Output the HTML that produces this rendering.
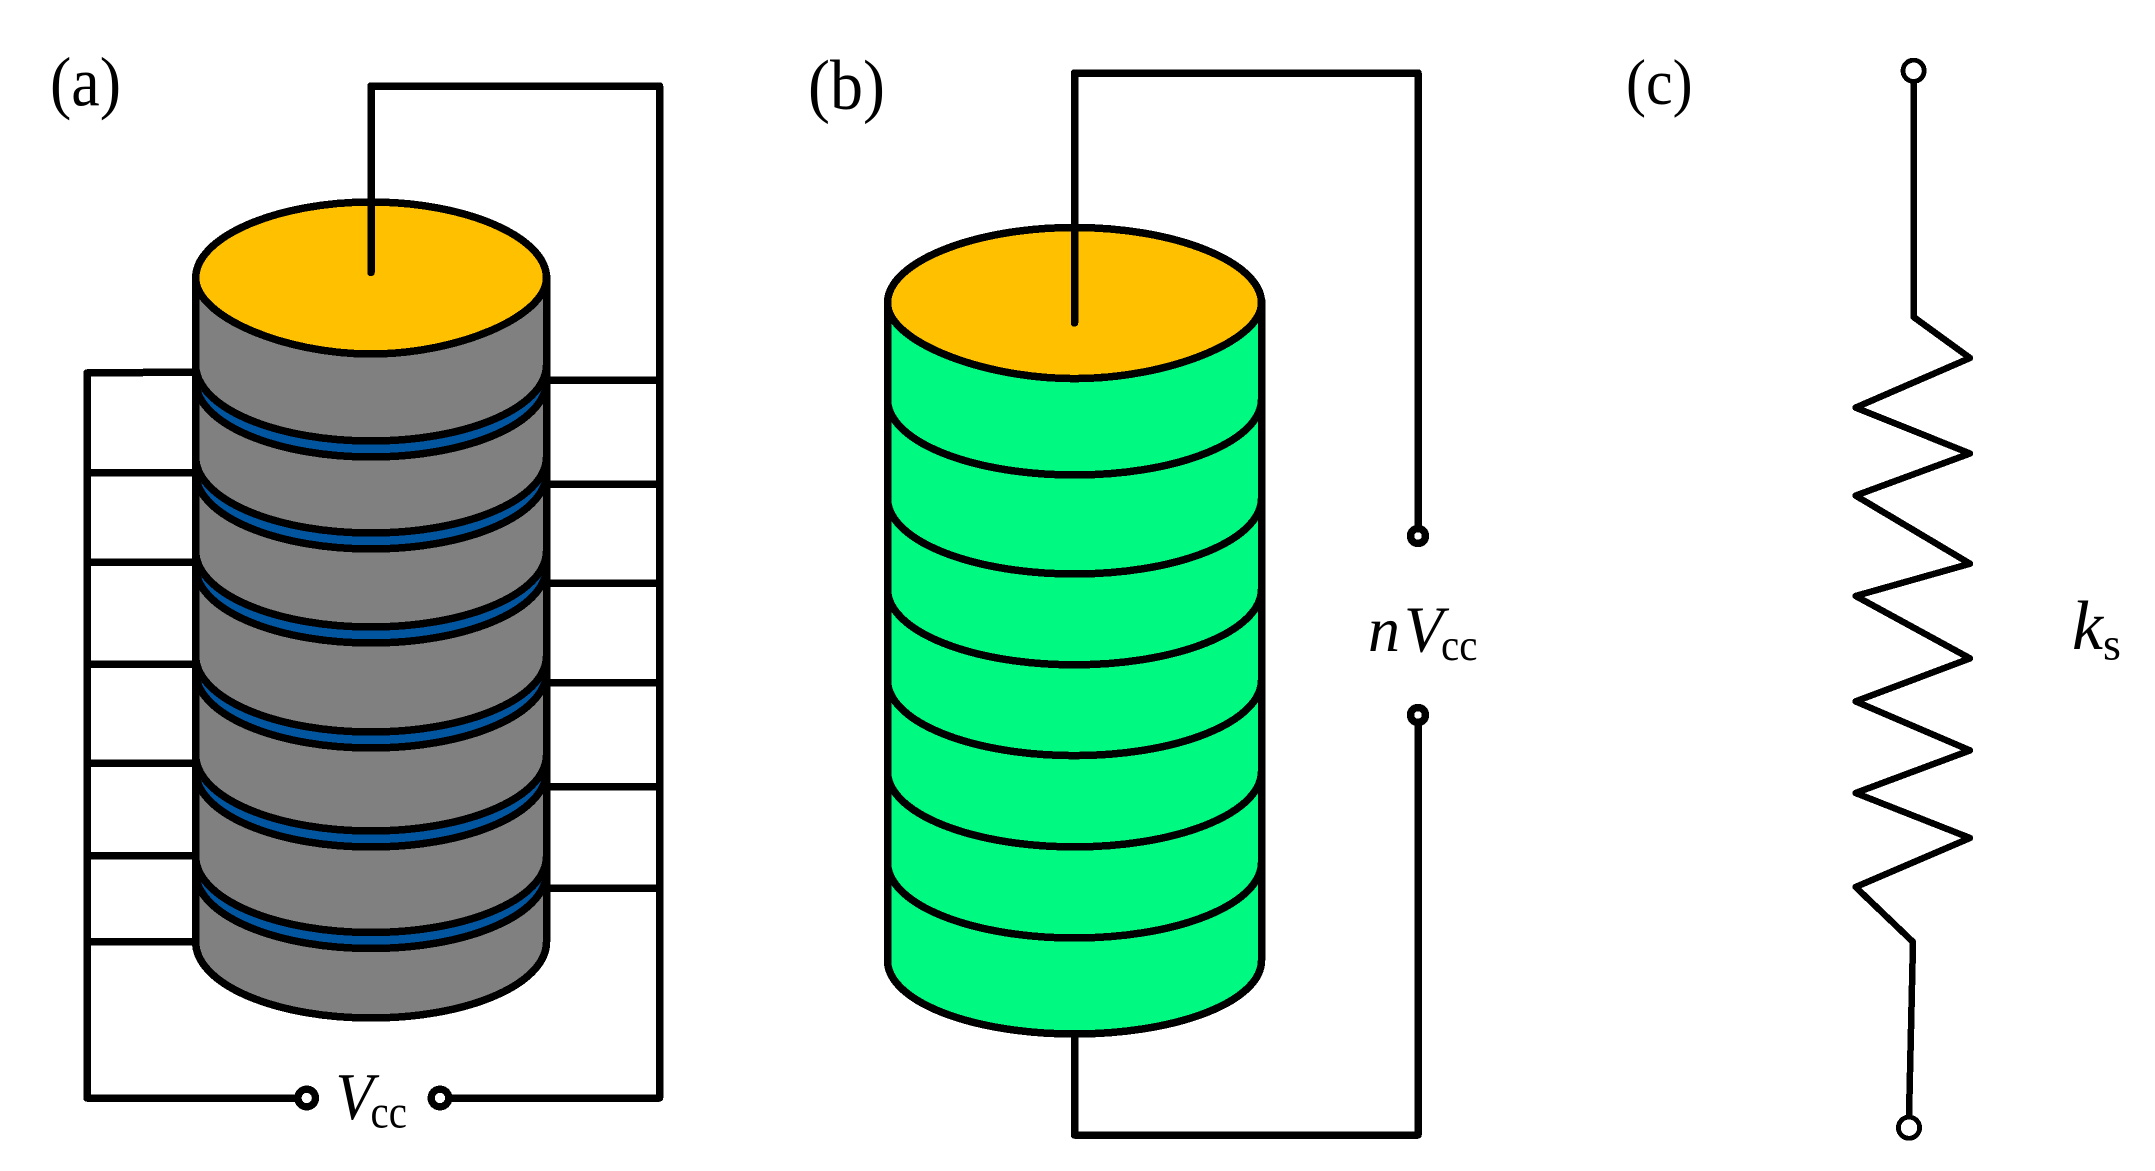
<!DOCTYPE html>
<html lang="en">
<head>
<meta charset="utf-8">
<title>Stacked piezo diagram</title>
<style>
html,body{margin:0;padding:0;background:#fff;}
svg{display:block;}
text{font-family:"Liberation Serif","Times New Roman",serif;fill:#000;}
.i{font-style:italic;}
</style>
</head>
<body>
<svg xmlns="http://www.w3.org/2000/svg" width="2155" height="1171" viewBox="0 0 2155 1171" shape-rendering="crispEdges">
<rect width="2155" height="1171" fill="#fff"/>
<defs>
<g id="band">
<path d="M195.7 16A175.4 76 0 0 0 546.5 16Z" fill="#01559E"/>
<path d="M195.7 16A175.4 76 0 0 0 546.5 16" fill="none" stroke="#000" stroke-width="7.5"/>
<path d="M195.7 0A175.4 76 0 0 0 546.5 0Z" fill="#808080"/>
<path d="M195.7 0A175.4 76 0 0 0 546.5 0" fill="none" stroke="#000" stroke-width="7.5"/>
</g>
<path id="arcb" d="M887.5 0A187 75.6 0 0 0 1261.5 0" fill="none" stroke="#000" stroke-width="7.5"/>
</defs>

<!-- (a) wires behind the cylinder -->
<g fill="none" stroke="#000" stroke-width="7.5" stroke-linejoin="round" stroke-linecap="butt">
<path d="M200 372L87 373V1098H300"/>
<path d="M432 1098H659.5V86H371"/>
<path d="M87 472.6H200M87 562H200M87 664H200M87 763H200M87 855.5H200M87 941.5H200"/>
<path d="M545 380H659.5M545 484H659.5M545 583H659.5M545 682.5H659.5M545 786.6H659.5M545 888H659.5"/>
</g>

<!-- (a) cylinder -->
<path d="M195.7 278.5V942A175.4 76 0 0 0 546.5 942V278.5Z" fill="#808080" stroke="#000" stroke-width="7.5"/>
<use href="#band" y="856.5"/>
<use href="#band" y="755"/>
<use href="#band" y="656"/>
<use href="#band" y="551"/>
<use href="#band" y="457"/>
<use href="#band" y="365"/>
<path d="M195.7 278.5V942M546.5 278.5V942" fill="none" stroke="#000" stroke-width="7.5"/>
<path d="M195.7 278C195.7 237 276.3 202 371 202C465.7 202 546.5 237 546.5 278C546.5 316 458.7 354 371 354C283.3 354 195.7 316 195.7 278Z" fill="#FFC000" stroke="#000" stroke-width="7.5"/>
<path d="M371 86V272.5" fill="none" stroke="#000" stroke-width="7.5" stroke-linecap="round"/>
<circle cx="306.7" cy="1098" r="8.8" fill="#fff" stroke="#000" stroke-width="7.3"/>
<circle cx="440" cy="1098" r="8.8" fill="#fff" stroke="#000" stroke-width="7.3"/>

<!-- (b) wires -->
<g fill="none" stroke="#000" stroke-width="7.5" stroke-linejoin="round">
<path d="M1074.5 73H1418V528"/>
<path d="M1074.5 1030V1135H1418V722"/>
</g>
<!-- (b) cylinder -->
<path d="M887.5 303.3V960.5A187 73.5 0 0 0 1261.5 960.5V303.3Z" fill="#00F981" stroke="#000" stroke-width="7.5"/>
<use href="#arcb" y="399.4"/>
<use href="#arcb" y="498.4"/>
<use href="#arcb" y="589.2"/>
<use href="#arcb" y="680"/>
<use href="#arcb" y="771.3"/>
<use href="#arcb" y="862.4"/>
<path d="M887.5 303C887.5 262.2 973.5 227.5 1074.5 227.5C1175.5 227.5 1261.5 262.2 1261.5 303C1261.5 340.8 1168 378.6 1074.5 378.6C981 378.6 887.5 340.8 887.5 303Z" fill="#FFC000" stroke="#000" stroke-width="7.5"/>
<path d="M1074.5 73V323" fill="none" stroke="#000" stroke-width="7.5" stroke-linecap="round"/>
<circle cx="1418" cy="536" r="7.5" fill="#fff" stroke="#000" stroke-width="7.5"/>
<circle cx="1418" cy="715" r="7.5" fill="#fff" stroke="#000" stroke-width="7.5"/>

<!-- (c) spring -->
<path d="M1913.6 80V317L1970 358L1855.6 407.6L1970 453.5L1855.6 495.6L1970 563.7L1855.6 596L1970 658.4L1855.6 701.4L1970 750.4L1855.6 793L1970 838L1855.6 887L1913 942L1909 1116" fill="none" stroke="#000" stroke-width="6.5" stroke-linejoin="round"/>
<circle cx="1913.6" cy="70.8" r="10.6" fill="#fff" stroke="#000" stroke-width="4.8"/>
<circle cx="1909" cy="1127.7" r="10.6" fill="#fff" stroke="#000" stroke-width="4.8"/>

<!-- labels -->
<text transform="translate(50 105.5) scale(1 1.1)" font-size="64">(a)</text>
<text transform="translate(808 109) scale(1 1.07)" font-size="66">(b)</text>
<text transform="translate(1626 104) scale(1 1.08)" font-size="60">(c)</text>

<text class="i" transform="translate(335.5 1119) scale(1 1.08)" font-size="62">V</text>
<text transform="translate(370.5 1127.5) scale(1 1.13)" font-size="41">cc</text>

<text class="i" transform="translate(1368 651)" font-size="64">n</text>
<text class="i" transform="translate(1404 651.5) scale(1 1.02)" font-size="64">V</text>
<text transform="translate(1441 660) scale(1 1.08)" font-size="41">cc</text>

<text class="i" transform="translate(2072 649)" font-size="70">k</text>
<text transform="translate(2103 659.5)" font-size="46">s</text>
</svg>
</body>
</html>
